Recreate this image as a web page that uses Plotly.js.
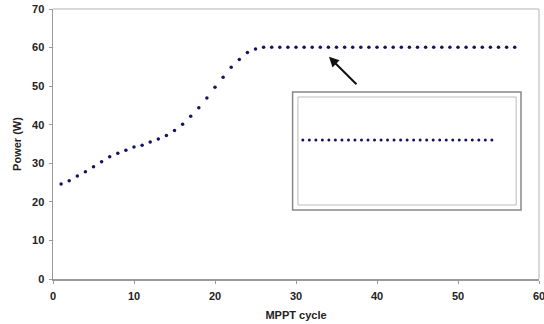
<!DOCTYPE html>
<html>
<head>
<meta charset="utf-8">
<script src="https://cdn.plot.ly/plotly-3.0.1.min.js"></script>
<style>html,body{margin:0;padding:0;background:#fff;}#chart{width:544px;height:324px;}
#chart .xtick text, #chart .ytick text{font-weight:bold !important;}</style>
</head>
<body>
<div id="chart"></div>
<script>
const cycles = [1,2,3,4,5,6,7,8,9,10,11,12,13,14,15,16,17,18,19,20,21,22,23,24,25,26,27,28,29,30,31,32,33,34,35,36,37,38,39,40,41,42,43,44,45,46,47,48,49,50,51,52,53,54,55,56,57];
const power = [24.6,25.5,26.7,27.8,29.1,30.4,31.7,32.6,33.4,34.2,34.7,35.5,36.3,37.2,38.5,40.1,42.2,44.4,46.9,49.7,52.3,54.9,56.9,58.7,59.6,60.1,60.1,60.1,60.1,60.1,60.1,60.1,60.1,60.1,60.1,60.1,60.1,60.1,60.1,60.1,60.1,60.1,60.1,60.1,60.1,60.1,60.1,60.1,60.1,60.1,60.1,60.1,60.1,60.1,60.1,60.1,60.1];
const insetCycles = [1,2,3,4,5,6,7,8,9,10,11,12,13,14,15,16,17,18,19,20,21,22,23,24,25,26,27,28,29,30];
const insetPower = [60,60,60,60,60,60,60,60,60,60,60,60,60,60,60,60,60,60,60,60,60,60,60,60,60,60,60,60,60,60];
const xTicks = [0,10,20,30,40,50,60];
const yTicks = [0,10,20,30,40,50,60,70];

const fam = 'Arial, Liberation Sans, sans-serif';
const tickFont = {family:fam, size:11, color:'#222', weight:'bold'};
const titleFont = {family:fam, size:11, color:'#222', weight:'bold'};
const traces = [
  {x:cycles, y:power, type:'scatter', mode:'markers',
   marker:{symbol:'circle', size:3.5, color:'#14145e'}, cliponaxis:false, hoverinfo:'skip'},
  {x:insetCycles, y:insetPower, type:'scatter', mode:'markers', xaxis:'x2', yaxis:'y2',
   marker:{symbol:'circle', size:3, color:'#14145e'}, cliponaxis:false, hoverinfo:'skip'}
];
const layout = {
  width:544, height:324,
  margin:{l:53, r:5, t:9, b:45},
  paper_bgcolor:'#fff', plot_bgcolor:'#fff',
  showlegend:false,
  font:{family:fam, size:11, color:'#222'},
  xaxis:{range:[0,60], tickvals:xTicks, ticktext:xTicks.map(v=>'<b>'+v+'</b>'), tickfont:tickFont,
    ticklabeloverflow:'allow', ticklabelstandoff:3,
    showgrid:false, zeroline:false, showline:true, linecolor:'#999', linewidth:1.5,
    ticks:'outside', ticklen:3, tickcolor:'#999',
    title:{text:'MPPT cycle', font:titleFont, standoff:10}},
  yaxis:{range:[0,70], tickvals:yTicks, ticktext:yTicks.map(v=>'<b>'+v+'</b>'), tickfont:tickFont,
    ticklabelstandoff:2,
    showgrid:false, zeroline:false, showline:true, linecolor:'#999', linewidth:1.5,
    ticks:'outside', ticklen:3, tickcolor:'#999',
    title:{text:'Power (W)', font:titleFont, standoff:8}},
  xaxis2:{domain:[0.514,0.903], range:[1,30], anchor:'y2', visible:false},
  yaxis2:{domain:[0.46,0.57], range:[59,61], anchor:'x2', visible:false},
  shapes:[
    {type:'line', xref:'paper', yref:'paper', x0:0, x1:1, y0:1, y1:1, line:{color:'#ccc', width:1.5}},
    {type:'line', xref:'paper', yref:'paper', x0:1, x1:1, y0:0, y1:1, line:{color:'#ccc', width:1.5}},
    {type:'rect', xref:'paper', yref:'paper', x0:0.493, x1:0.963, y0:0.256, y1:0.693, line:{color:'#888', width:1.5}, fillcolor:'rgba(0,0,0,0)'},
    {type:'rect', xref:'paper', yref:'paper', x0:0.504, x1:0.953, y0:0.274, y1:0.674, line:{color:'#bbb', width:1}, fillcolor:'rgba(0,0,0,0)'}
  ],
  annotations:[
    {x:34.07, y:57.6, xref:'x', yref:'y', ax:29, ay:29, text:'', showarrow:true,
     arrowhead:2, arrowsize:1, arrowwidth:2, arrowcolor:'#111'}
  ]
};
Plotly.newPlot('chart', traces, layout, {staticPlot:true, displayModeBar:false});
</script>
</body>
</html>
